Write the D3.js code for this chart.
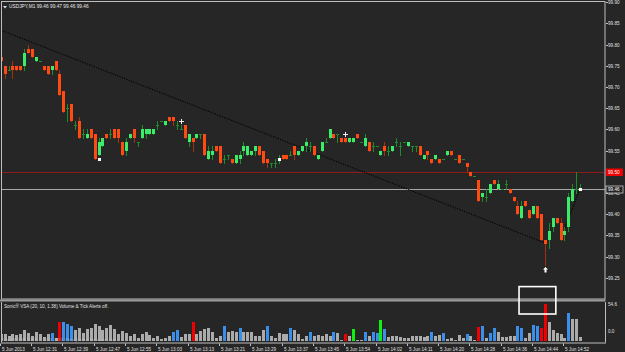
<!DOCTYPE html>
<html><head><meta charset="utf-8">
<script src="https://cdn.jsdelivr.net/npm/d3@7"></script>
<style>
html,body{margin:0;padding:0;background:#262626;}
svg{display:block;}
text{font-family:"Liberation Sans",Arial,sans-serif;}
</style></head>
<body>
<script>
// ---- data ----
const open  = [99.77,99.75,99.74,99.75,99.75,99.75,99.75,99.79,99.79,99.76,99.76,99.75,99.75,99.74,99.76,99.73,99.69,99.65,99.66,99.61,99.62,99.59,99.58,99.60,99.59,99.54,99.56,99.59,99.59,99.60,99.60,99.57,99.55,99.58,99.60,99.57,99.58,99.59,99.59,99.59,99.61,99.62,99.61,99.63,99.63,99.61,99.60,99.61,99.57,99.58,99.58,99.59,99.59,99.53,99.54,99.56,99.56,99.53,99.54,99.53,99.52,99.53,99.55,99.54,99.54,99.55,99.56,99.55,99.53,99.52,99.52,99.53,99.54,99.54,99.54,99.56,99.54,99.55,99.56,99.56,99.56,99.53,99.55,99.57,99.58,99.59,99.59,99.58,99.58,99.57,99.57,99.59,99.57,99.56,99.57,99.56,99.56,99.54,99.56,99.55,99.55,99.57,99.56,99.57,99.56,99.56,99.56,99.56,99.53,99.55,99.53,99.53,99.53,99.53,99.54,99.55,99.53,99.54,99.53,99.52,99.50,99.49,99.48,99.44,99.44,99.45,99.48,99.46,99.46,99.47,99.46,99.44,99.42,99.39,99.43,99.41,99.40,99.42,99.40,99.34,99.34,99.37,99.39,99.38,99.35,99.37,99.43,99.46,99.46];
const high  = [99.77,99.75,99.75,99.76,99.75,99.75,99.79,99.80,99.79,99.77,99.76,99.75,99.75,99.75,99.76,99.74,99.69,99.66,99.66,99.62,99.63,99.60,99.60,99.60,99.59,99.58,99.58,99.59,99.60,99.60,99.60,99.57,99.58,99.59,99.60,99.57,99.61,99.60,99.60,99.60,99.62,99.62,99.62,99.63,99.63,99.62,99.61,99.61,99.59,99.58,99.59,99.59,99.59,99.56,99.56,99.56,99.56,99.54,99.54,99.53,99.54,99.55,99.57,99.56,99.55,99.56,99.56,99.55,99.53,99.52,99.53,99.54,99.54,99.54,99.55,99.56,99.55,99.56,99.58,99.57,99.56,99.54,99.57,99.58,99.60,99.59,99.59,99.58,99.58,99.58,99.58,99.59,99.57,99.59,99.57,99.57,99.56,99.55,99.57,99.56,99.56,99.58,99.57,99.57,99.57,99.56,99.56,99.56,99.54,99.55,99.53,99.54,99.53,99.53,99.55,99.55,99.53,99.54,99.53,99.52,99.50,99.49,99.48,99.45,99.46,99.47,99.48,99.48,99.46,99.48,99.46,99.44,99.43,99.43,99.43,99.41,99.42,99.42,99.40,99.34,99.38,99.39,99.39,99.39,99.37,99.45,99.47,99.50,99.47];
const low   = [99.76,99.72,99.74,99.72,99.74,99.74,99.74,99.78,99.77,99.76,99.76,99.74,99.73,99.73,99.74,99.68,99.64,99.62,99.62,99.60,99.58,99.58,99.58,99.58,99.53,99.54,99.56,99.58,99.58,99.58,99.57,99.54,99.54,99.58,99.57,99.56,99.58,99.58,99.59,99.59,99.60,99.62,99.61,99.62,99.61,99.60,99.60,99.58,99.56,99.55,99.58,99.58,99.54,99.53,99.53,99.55,99.52,99.52,99.53,99.52,99.52,99.52,99.54,99.54,99.54,99.54,99.54,99.52,99.51,99.51,99.51,99.52,99.53,99.53,99.54,99.53,99.54,99.55,99.55,99.55,99.54,99.53,99.55,99.57,99.58,99.58,99.57,99.57,99.57,99.57,99.57,99.58,99.57,99.56,99.55,99.55,99.56,99.54,99.54,99.54,99.55,99.56,99.54,99.57,99.56,99.55,99.55,99.54,99.53,99.53,99.52,99.53,99.52,99.53,99.54,99.54,99.53,99.52,99.53,99.50,99.49,99.49,99.43,99.43,99.43,99.45,99.47,99.46,99.46,99.46,99.45,99.43,99.40,99.39,99.42,99.39,99.40,99.39,99.34,99.28,99.32,99.36,99.38,99.34,99.34,99.36,99.43,99.45,99.46];
const close = [99.76,99.73,99.74,99.74,99.74,99.74,99.78,99.78,99.77,99.77,99.76,99.74,99.73,99.75,99.74,99.68,99.64,99.65,99.62,99.61,99.58,99.59,99.59,99.58,99.53,99.57,99.58,99.58,99.59,99.58,99.58,99.54,99.57,99.59,99.58,99.57,99.60,99.60,99.60,99.60,99.61,99.62,99.62,99.62,99.62,99.61,99.60,99.58,99.59,99.57,99.59,99.59,99.54,99.55,99.55,99.55,99.52,99.53,99.54,99.52,99.54,99.54,99.56,99.56,99.55,99.56,99.54,99.52,99.52,99.52,99.52,99.53,99.53,99.53,99.54,99.54,99.55,99.56,99.57,99.56,99.54,99.54,99.57,99.57,99.60,99.58,99.59,99.57,99.57,99.58,99.58,99.58,99.57,99.58,99.55,99.56,99.56,99.55,99.55,99.55,99.56,99.57,99.56,99.57,99.57,99.56,99.56,99.54,99.54,99.54,99.52,99.54,99.52,99.53,99.55,99.54,99.53,99.52,99.53,99.51,99.49,99.49,99.43,99.45,99.44,99.47,99.47,99.47,99.46,99.47,99.45,99.43,99.40,99.42,99.42,99.39,99.42,99.39,99.34,99.33,99.36,99.39,99.38,99.34,99.36,99.44,99.46,99.46,99.46];
const volume = [10.7,9.7,6.8,9.7,8.8,9.7,15.6,11.7,7.8,13.6,9.7,5.8,9.7,11.7,3.9,28.2,27.2,24.3,22.4,15.6,19.5,11.7,17.5,19.5,24.3,21.4,16.5,18.5,23.4,17.5,10.7,14.6,11.7,6.8,10.7,4.9,9.7,13.6,8.8,3.9,6.8,2.9,4.9,7.8,12.7,16.5,5.8,10.7,9.7,28.2,10.7,14.6,17.5,19.5,13.6,3.9,7.8,22.4,12.7,14.6,13.6,18.5,13.6,13.6,13.6,6.8,6.8,15.6,21.4,7.8,4.9,11.7,9.7,9.7,18.5,15.6,9.7,2.9,6.8,13.6,7.8,8.8,6.8,10.7,7.8,13.6,11.7,1.9,10.7,6.8,17.5,1.9,1.9,12.7,6.8,13.6,11.7,30.2,17.5,5.8,7.8,6.8,5.8,4.9,3.9,6.8,7.8,7.8,5.8,7.8,13.6,7.8,8.8,11.7,2.9,4.9,1.9,8.8,3.9,10.7,6.8,1.0,20.4,22.4,4.9,11.7,18.5,13.6,5.8,5.8,7.8,6.8,21.4,18.5,3.9,11.7,23.4,22.4,19.5,54.5,27.2,15.6,11.7,10.7,4.9,40.9,32.1,32.1,5.8];
const blueBars  = [13,16,17,18,44,45,57,61,68,74,79,85,93,95,96,98,110,113,119,123,125,126,132,133,136,137,145];
const redBars   = [15,49,88,122,138,139];
const greenBars = [90,97];
const timeLabels = ["5 Jun 2013","5 Jun 12:31","5 Jun 12:39","5 Jun 12:47","5 Jun 12:55","5 Jun 13:03","5 Jun 13:13","5 Jun 13:21","5 Jun 13:29","5 Jun 13:37","5 Jun 13:45","5 Jun 13:54","5 Jun 14:02","5 Jun 14:11","5 Jun 14:20","5 Jun 14:28","5 Jun 14:36","5 Jun 14:44","5 Jun 14:52"];
const labelEvery = 8;
const priceTicks = [99.90,99.85,99.80,99.75,99.70,99.65,99.60,99.55,99.45,99.40,99.35,99.30,99.25];
const redLevel = 99.50, bidLevel = 99.46;
const volTicks = ["54.6","0.0"];
const trendLine = [[0,99.834],[139,99.332]];
const zigzag = [[143,99.34],[148,99.46]];
const markers = [[25,99.53,"sq"],[46,99.62,"cr"],[71,99.53,"sq"],[88,99.59,"cr"],[139,99.27,"up"],[148,99.46,"sq"]];
const boxBars = [132.4,141.8];   // highlight box, bar-index span
const boxTopPrice = 99.229;      // top edge (price scale)
const boxBottomVol = 39.3;       // bottom edge (volume scale)
const title = "USDJPY,M1  99.46 99.47 99.46 99.46";
const indTitle = "Sonic\u00AE VSA (20, 10, 1.38)  Volume & Tick Alerts off.";
const watermark = "SonicR VSA 2013, \u00A9 2001-2013, MetaQuotes Software Corp.";

// ---- drawing ----
const W=625,H=352;
const svg=d3.select("body").append("svg").attr("width",W).attr("height",H);
svg.append("rect").attr("width",W).attr("height",H).attr("fill","#262626");
const N=open.length;
const x=d3.scaleLinear().domain([0,147]).range([0.7,576.2]);
const y=d3.scaleLinear().domain([99.25,99.90]).range([277.7,2.1]);
const yv=d3.scaleLinear().domain([0,54.6]).range([341,303.5]);
const PR=605, MT=1.5, MB=299, ST=302, SB=342.5;

const defs=svg.append("defs");
defs.append("clipPath").attr("id","cm").append("rect").attr("x",2).attr("y",2).attr("width",PR-2).attr("height",MB-2);
defs.append("clipPath").attr("id","cs").append("rect").attr("x",2).attr("y",ST).attr("width",PR-2).attr("height",SB-ST);

const main=svg.append("g").attr("clip-path","url(#cm)");
main.append("line").attr("x1",0).attr("x2",PR).attr("y1",Math.round(y(redLevel))+0.5).attr("y2",Math.round(y(redLevel))+0.5).attr("stroke","#8e1a1a").attr("stroke-width",1);
main.append("line").attr("x1",0).attr("x2",PR).attr("y1",Math.round(y(bidLevel))+0.5).attr("y2",Math.round(y(bidLevel))+0.5).attr("stroke","#a8a8a8").attr("stroke-width",1);
const lg=d3.line().x(d=>x(d[0])).y(d=>y(d[1]));
main.append("path").attr("d",lg(trendLine)).attr("fill","none").attr("stroke","#000").attr("stroke-width",1.1).attr("stroke-dasharray","1.2,1.3");
main.append("path").attr("d",lg(zigzag)).attr("fill","none").attr("stroke","#000").attr("stroke-width",1.1).attr("stroke-dasharray","1.2,1.3");

const idx=d3.range(N);
const bullBody="#3aec68", bearBody="#ff4a12", bullWick="#1f8c2c", bearWick="#a3300e";
const cg=main.append("g").attr("shape-rendering","crispEdges");
cg.selectAll("line.w").data(idx).join("line")
  .attr("x1",i=>Math.round(x(i))+0.5).attr("x2",i=>Math.round(x(i))+0.5)
  .attr("y1",i=>y(high[i])).attr("y2",i=>y(low[i])+1)
  .attr("stroke",i=>close[i]<open[i]?bearWick:bullWick).attr("stroke-width",1);
cg.selectAll("rect.b").data(idx.filter(i=>open[i]!==close[i])).join("rect")
  .attr("x",i=>Math.round(x(i))-1).attr("width",3)
  .attr("y",i=>y(Math.max(open[i],close[i])))
  .attr("height",i=>Math.max(1,Math.abs(y(open[i])-y(close[i]))))
  .attr("fill",i=>close[i]<open[i]?bearBody:bullBody);
cg.selectAll("rect.d").data(idx.filter(i=>open[i]===close[i])).join("rect")
  .attr("x",i=>Math.round(x(i))-1).attr("width",3)
  .attr("y",i=>Math.round(y(open[i]))).attr("height",1)
  .attr("fill",bullWick);

const mg=main.append("g");
markers.forEach(m=>{
  const cx=Math.round(x(m[0])), cy=Math.round(y(m[1]));
  if(m[2]==="sq"){mg.append("rect").attr("x",cx-1).attr("y",cy-1).attr("width",3).attr("height",3).attr("fill","#fff");}
  else if(m[2]==="cr"){mg.append("path").attr("d",`M${cx-2},${cy}h5v1h-5zM${cx},${cy-2}h1v5h-1z`).attr("fill","#eee");}
  else {mg.append("path").attr("d",`M${cx+0.5},${cy-2}l2.5,2.5h-1.5v3h-2v-3h-1.5z`).attr("fill","#fff");}
});

svg.append("path").attr("d","M3,6h4l-2,2.5z").attr("fill","#ddd");
svg.append("text").attr("x",9).attr("y",8.3).attr("font-size",4.8).attr("fill","#e8e8e8").text(title);

const bord="#bdbdbd";
svg.append("rect").attr("x",1.5).attr("y",MT).attr("width",PR-1.5).attr("height",MB-MT).attr("fill","none").attr("stroke",bord).attr("stroke-width",1);
svg.append("rect").attr("x",0).attr("y",MB+0.5).attr("width",PR+0.5).attr("height",2).attr("fill","#9c9c9c");
svg.append("line").attr("x1",1.5).attr("x2",1.5).attr("y1",ST).attr("y2",SB).attr("stroke",bord);
svg.append("line").attr("x1",PR+0.5).attr("x2",PR+0.5).attr("y1",ST).attr("y2",SB).attr("stroke",bord);
svg.append("line").attr("x1",1).attr("x2",PR+1).attr("y1",SB+0.5).attr("y2",SB+0.5).attr("stroke",bord);

const ax=svg.append("g");
priceTicks.forEach(p=>{
  const yy=Math.round(y(p))+0.5;
  ax.append("line").attr("x1",PR+1).attr("x2",PR+3).attr("y1",yy).attr("y2",yy).attr("stroke",bord);
  ax.append("text").attr("x",608).attr("y",yy+1.7).attr("font-size",4.6).attr("fill","#e0e0e0").text(p.toFixed(2));
});
{
  const yy=Math.round(y(redLevel));
  ax.append("rect").attr("x",606).attr("y",yy-3.5).attr("width",17).attr("height",7.5).attr("fill","#ee0000");
  ax.append("text").attr("x",608).attr("y",yy+2.2).attr("font-size",4.6).attr("fill","#fff").text(redLevel.toFixed(2));
  const yb=Math.round(y(bidLevel));
  ax.append("rect").attr("x",606).attr("y",yb-3).attr("width",17).attr("height",7).attr("fill","#262626").attr("stroke","#c8c8c8").attr("stroke-width",0.8);
  ax.append("text").attr("x",608).attr("y",yb+2.2).attr("font-size",4.6).attr("fill","#fff").text(bidLevel.toFixed(2));
}

const sub=svg.append("g").attr("clip-path","url(#cs)").attr("shape-rendering","crispEdges");
const colorOf=i=>blueBars.includes(i)?"#3b8fe8":redBars.includes(i)?"#f00000":greenBars.includes(i)?"#10f010":"#ababab";
sub.selectAll("rect").data(idx).join("rect")
  .attr("x",i=>Math.round(x(i))-1).attr("width",3)
  .attr("y",i=>yv(volume[i])).attr("height",i=>yv(0)-yv(volume[i]))
  .attr("fill",colorOf);
svg.append("text").attr("x",4).attr("y",307.5).attr("font-size",4.6).attr("fill","#e0e0e0").text(indTitle);
svg.append("text").attr("x",3).attr("y",340.5).attr("font-size",4.2).attr("fill","#cfcfcf").attr("opacity",0.55).text(watermark);
svg.append("text").attr("x",608).attr("y",306).attr("font-size",4.6).attr("fill","#e0e0e0").text(volTicks[0]);
svg.append("text").attr("x",608).attr("y",332.5).attr("font-size",4.6).attr("fill","#e0e0e0").text(volTicks[1]);

// highlight box spanning the two panels
const bx0=x(boxBars[0]), bx1=x(boxBars[1]), by0=y(boxTopPrice), by1=yv(boxBottomVol);
svg.append("rect").attr("x",bx0).attr("y",by0).attr("width",bx1-bx0).attr("height",by1-by0)
  .attr("fill","none").attr("stroke","#ffffff").attr("stroke-width",1.6);

timeLabels.forEach((t,k)=>{
  const xx=Math.round(x(k*labelEvery))-0.5;
  svg.append("line").attr("x1",xx).attr("x2",xx).attr("y1",SB+1).attr("y2",SB+3.5).attr("stroke",bord);
  svg.append("text").attr("x",xx+1.5).attr("y",350.5).attr("font-size",4.6).attr("fill","#e0e0e0").text(t);
});
</script>
</body></html>
